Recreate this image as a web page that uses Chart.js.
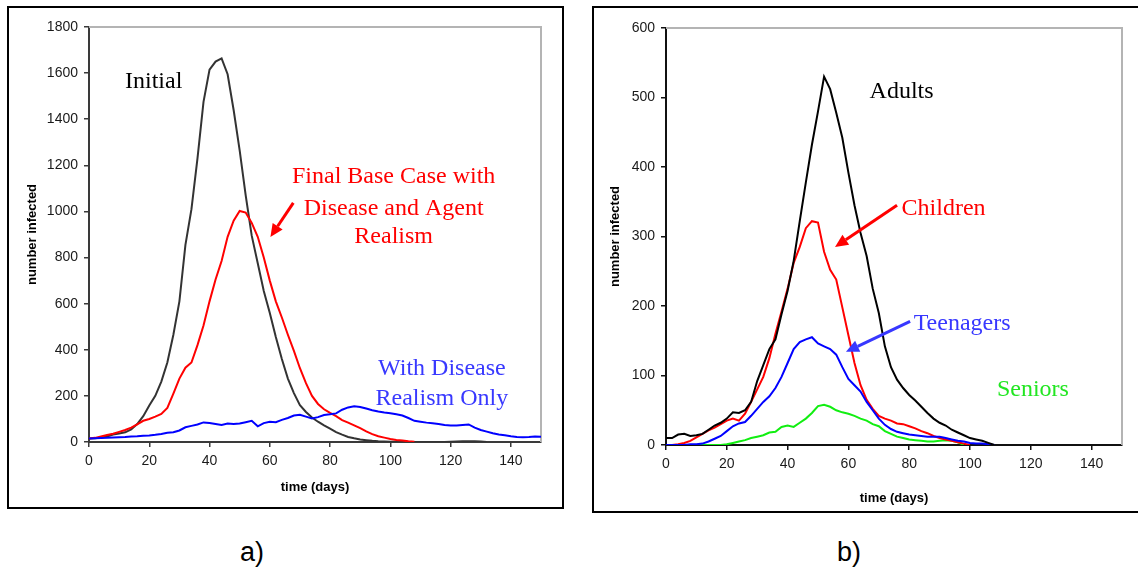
<!DOCTYPE html>
<html>
<head>
<meta charset="utf-8">
<script src="https://cdn.jsdelivr.net/npm/chart.js@4.4.1/dist/chart.umd.min.js"></script>
<style>
  body { margin:0; background:#fff; width:1138px; height:571px; overflow:hidden; position:relative;
         font-family:"Liberation Sans", Arial, sans-serif; }
  .box { position:absolute; border:2px solid #000; box-sizing:border-box; }
  #boxA { left:7px; top:6px; width:557px; height:503px; }
  #boxB { left:592px; top:6px; width:600px; height:507px; }
  canvas { position:absolute; top:0; }
  #chartA { left:0; }
  #chartB { left:593px; }
  .cap { position:absolute; font-size:27px; line-height:27px; color:#000; }
</style>
</head>
<body>
<div class="box" id="boxA"></div>
<div class="box" id="boxB"></div>
<canvas id="chartA" width="565" height="520"></canvas>
<canvas id="chartB" width="545" height="520"></canvas>
<div class="cap" style="left:240px;top:539px">a)</div>
<div class="cap" style="left:837px;top:539px">b)</div>
<script>
// ---- data: panel a (every 2 days) ----
const daysA = [0,2,4,6,8,10,12,14,16,18,20,22,24,26,28,30,32,34,36,38,40,42,44,46,48,50,52,54,56,58,
  60,62,64,66,68,70,72,74,76,78,80,82,84,86,88,90,92,94,96,98,100,102,104,106,108,110,112,114,116,118,
  120,122,124,126,128,130,132,134,136,138,140,142,144,146,148,150];
const initial = [15,16,19,24,32,37,42,55,78,112, 158,200,262,345,465,610,855,1010,1230,1475,
  1615,1650,1664,1595,1440,1265,1070,895,775,655, 560,455,360,275,212,160,130,106,88,72,
  58,43,32,22,16,11,8,5,3,2, 1,1,0,0,0,0,0,0,0,0, 1,2,3,3,3,2,0];
const finalBase = [15,18,24,30,36,44,52,62,76,92, 100,110,122,148,210,275,322,345,420,505,
  610,705,785,890,960,1002,995,950,890,800, 700,610,540,465,395,320,255,200,165,142,
  126,112,95,84,72,60,46,34,25,19, 13,9,6,3,1];
const diseaseOnly = [15,16,17,18,20,21,22,24,25,27, 28,31,35,40,42,50,64,70,76,85,
  82,78,74,80,78,80,86,92,68,82, 88,86,96,104,115,118,110,102,108,117,
  120,124,140,150,155,152,145,138,132,128, 125,120,115,104,92,88,84,81,78,74,
  72,72,74,76,62,52,45,38,33,29, 25,22,21,22,24,23];

// ---- data: panel b (every 2 days) ----
const daysB = [0,2,4,6,8,10,12,14,16,18,20,22,24,26,28,30,32,34,36,38,40,42,44,46,48,50,52,54,56,58,
  60,62,64,66,68,70,72,74,76,78,80,82,84,86,88,90,92,94,96,98,100,102,104,106,108];
const adults = [10,10,15,16,13,14,16,22,28,32, 38,47,46,50,62,92,115,138,152,188,
  222,265,322,378,432,480,530,512,478,442, 392,345,305,272,225,190,142,112,94,82,
  72,64,55,46,38,32,28,22,18,14, 10,8,6,3,0];
const children = [0,0,1,3,6,11,16,21,25,30, 35,38,35,45,62,80,98,125,160,192,
  225,262,285,312,322,320,278,252,238,198, 158,118,86,65,52,42,38,35,31,30,
  27,24,20,17,13,10,8,6,4,2, 0];
const teenagers = [0,0,0,0,1,1,2,5,9,13, 20,27,31,33,42,52,62,70,82,98,
  118,138,148,152,155,146,142,138,130,112, 95,86,77,62,50,38,29,23,19,17,
  15,14,13,12,12,12,10,8,6,5, 3,2,2,1,0];
const seniors = [0,0,0,0,0,0,0,0,0,0, 1,3,5,7,10,12,14,18,19,26,
  28,26,32,38,46,56,58,55,50,47, 45,42,38,35,30,27,20,16,12,10,
  8,7,6,5,5,6,7,6,4,0];

const yTicksA = { min:0, max:1800, step:200 };
const yTicksB = { min:0, max:600, step:100 };
const xTicks = { min:0, max:150, step:20 };

// ---- annotations (data units) ----
const notesA = [
  { t:'Initial', x:21.45, y:1536, c:'#000' },
  { t:'Final Base Case with', x:101.1, y:1124, c:'#ff0000' },
  { t:'Disease and Agent', x:101.1, y:985, c:'#ff0000' },
  { t:'Realism', x:101.1, y:863, c:'#ff0000' },
  { t:'With Disease', x:117.1, y:291, c:'#3838ff' },
  { t:'Realism Only', x:117.1, y:161, c:'#3838ff' }
];
const arrowsA = [ { x1:67.8, y1:1037, x2:60.2, y2:889, c:'#ff0000' } ];
const notesB = [
  { t:'Adults', x:77.5, y:499, c:'#000' },
  { t:'Children', x:91.3, y:331, c:'#ff0000' },
  { t:'Teenagers', x:97.4, y:165, c:'#3838ff' },
  { t:'Seniors', x:120.7, y:70.5, c:'#22e622' }
];
const arrowsB = [
  { x1:76, y1:345, x2:55.6, y2:285, c:'#ff0000' },
  { x1:80.3, y1:178, x2:59.2, y2:134, c:'#3838ff' }
];

const SANS = '"Liberation Sans", Arial, sans-serif';
const SERIF = '"Liberation Serif", "Times New Roman", serif';

const pts = (days, vals) => vals.map((v, i) => ({ x: days[i], y: v }));

// grey frame on top/right of plot + text labels and arrows
const framePlugin = {
  id: 'frame',
  beforeDatasetsDraw(chart) {
    const { ctx, chartArea: a } = chart;
    ctx.save();
    ctx.strokeStyle = '#b4b4b4';
    ctx.lineWidth = 2;
    ctx.beginPath();
    ctx.moveTo(a.left, a.top);
    ctx.lineTo(a.right, a.top);
    ctx.lineTo(a.right, a.bottom);
    ctx.stroke();
    ctx.restore();
  },
  afterDraw(chart, args, opts) {
    const { ctx } = chart;
    const sx = chart.scales.x, sy = chart.scales.y;
    ctx.save();
    ctx.font = '24px ' + SERIF;
    ctx.textAlign = 'center';
    ctx.textBaseline = 'alphabetic';
    (opts.notes || []).forEach(n => {
      ctx.fillStyle = n.c;
      ctx.fillText(n.t, sx.getPixelForValue(n.x), sy.getPixelForValue(n.y));
    });
    (opts.arrows || []).forEach(r => {
      const x1 = sx.getPixelForValue(r.x1), y1 = sy.getPixelForValue(r.y1);
      const x2 = sx.getPixelForValue(r.x2), y2 = sy.getPixelForValue(r.y2);
      const ang = Math.atan2(y2 - y1, x2 - x1);
      const hl = 13, hw = 6;
      const bx = x2 - hl * Math.cos(ang), by = y2 - hl * Math.sin(ang);
      ctx.strokeStyle = r.c; ctx.fillStyle = r.c;
      ctx.lineWidth = 3;
      ctx.beginPath(); ctx.moveTo(x1, y1); ctx.lineTo(bx, by); ctx.stroke();
      ctx.beginPath();
      ctx.moveTo(x2, y2);
      ctx.lineTo(bx + hw * Math.sin(ang), by - hw * Math.cos(ang));
      ctx.lineTo(bx - hw * Math.sin(ang), by + hw * Math.cos(ang));
      ctx.closePath(); ctx.fill();
    });
    ctx.restore();
  }
};

function makeChart(id, datasets, yt, o) {
  return new Chart(document.getElementById(id), {
    type: 'line',
    data: { datasets },
    plugins: [framePlugin],
    options: {
      responsive: false, animation: false, devicePixelRatio: 1,
      layout: { padding: { left: 0, top: o.top, right: o.right, bottom: 0 } },
      elements: { point: { radius: 0 }, line: { borderWidth: 2, tension: 0 } },
      plugins: { legend: { display: false }, tooltip: { enabled: false },
                 frame: { notes: o.notes, arrows: o.arrows } },
      scales: {
        x: {
          type: 'linear', min: xTicks.min, max: xTicks.max,
          ticks: { stepSize: xTicks.step, includeBounds: false, maxRotation: 0, padding: 6,
                   color: '#1a1a1a', font: { family: SANS, size: 14 }, callback: v => String(v) },
          grid: { drawOnChartArea: false, drawTicks: true, tickLength: 5, color: o.axis, lineWidth: 1.5 },
          border: { color: o.axis, width: 2 },
          title: { display: true, text: 'time (days)', color: '#000',
                   font: { family: SANS, size: 13, weight: 'bold' }, padding: { top: 0, bottom: o.xTitlePad } },
          afterFit: s => { s.height = o.xh; }
        },
        y: {
          min: yt.min, max: yt.max,
          ticks: { stepSize: yt.step, padding: 6, color: '#1a1a1a', font: { family: SANS, size: 14 },
                   callback: v => String(v) },
          grid: { drawOnChartArea: false, drawTicks: true, tickLength: 5, color: o.axis, lineWidth: 1.5 },
          border: { color: o.axis, width: 2 },
          title: { display: true, text: 'number infected', color: '#000',
                   font: { family: SANS, size: 13, weight: 'bold' }, padding: { top: o.yTitlePad, bottom: 0 } },
          afterFit: s => { s.width = o.yw; }
        }
      }
    }
  });
}

makeChart('chartA', [
  { data: pts(daysA, diseaseOnly), borderColor: '#0000ff' },
  { data: pts(daysA, finalBase), borderColor: '#ff0000' },
  { data: pts(daysA, initial), borderColor: '#333333' }
], yTicksA, { top: 27, right: 24, xh: 78, yw: 89, xTitlePad: 25, yTitlePad: 25,
              axis: '#3a3a3a', notes: notesA, arrows: arrowsA });

makeChart('chartB', [
  { data: pts(daysB, adults), borderColor: '#000000' },
  { data: pts(daysB, teenagers), borderColor: '#0000ff' },
  { data: pts(daysB, children), borderColor: '#ff0000' },
  { data: pts(daysB, seniors), borderColor: '#11ee11' }
], yTicksB, { top: 28, right: 16, xh: 75, yw: 73, xTitlePad: 14, yTitlePad: 15,
              axis: '#111111', notes: notesB, arrows: arrowsB });
</script>
</body>
</html>
